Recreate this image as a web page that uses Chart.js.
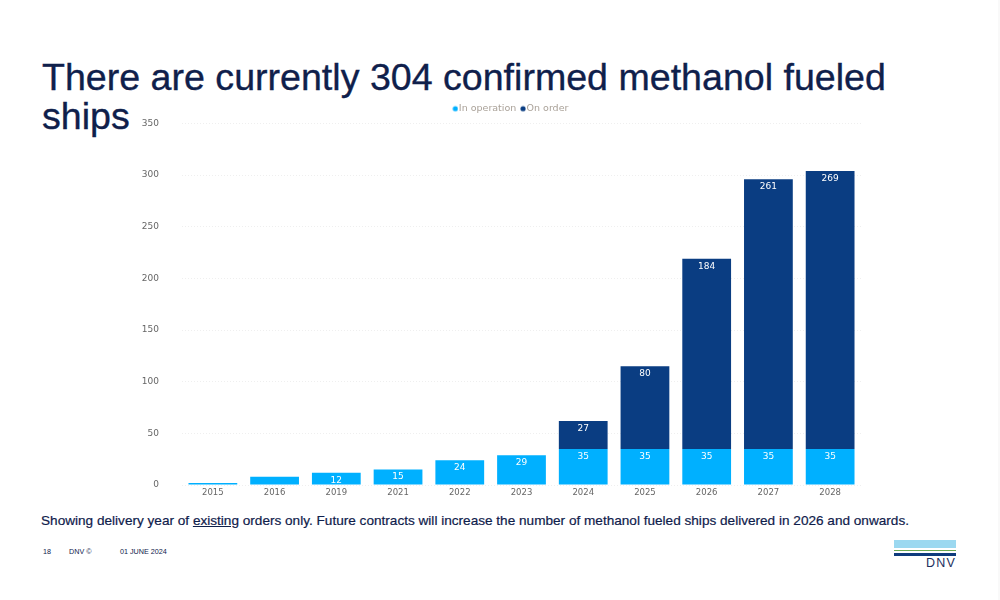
<!DOCTYPE html>
<html><head><meta charset="utf-8">
<script src="https://cdn.jsdelivr.net/npm/chart.js@4"></script>
<style>
html,body{margin:0;padding:0;background:#fff;width:1000px;height:600px;overflow:hidden}
.t{position:absolute;font-family:"Liberation Sans",Arial,sans-serif;color:#0f204b;white-space:nowrap}
#title{left:42px;top:58px;font-size:37.6px;line-height:39px;white-space:normal;width:880px;-webkit-text-stroke:0.35px #0f204b}
#cap{left:41px;top:513px;font-size:13.6px;line-height:16px;-webkit-text-stroke:0.2px #0f204b}
.f{top:547px;font-size:7.2px;line-height:10px}
#wrap{position:absolute;left:130px;top:94.5px;width:735px;height:418.5px}
.b{position:absolute;left:894px;width:62px}
#dnv{left:894px;width:62px;top:556px;text-align:right;font-size:12.5px;letter-spacing:1.2px;line-height:14px;color:#1d2f5e}
#edge{position:absolute;left:998px;top:0;width:2px;height:600px;background:#f9f9f9}
</style></head><body>
<div id="edge"></div>
<div class="t" id="title">There are currently 304 confirmed methanol fueled ships</div>
<div id="wrap"><canvas id="c"></canvas></div>
<div class="t" id="cap">Showing delivery year of <u>existing</u> orders only. Future contracts will increase the number of methanol fueled ships delivered in 2026 and onwards.</div>
<div class="t f" style="left:43px">18</div>
<div class="t f" style="left:69px">DNV ©</div>
<div class="t f" style="left:120px">01 JUNE 2024</div>
<div class="b" style="top:540px;height:8px;background:#9bd8f0"></div>
<div class="b" style="top:550px;height:1px;background:#6aa84f"></div>
<div class="b" style="top:553px;height:2.5px;background:#0f3b7d"></div>
<div class="t" id="dnv">DNV</div>
<script>
const categories=["2015","2016","2019","2021","2022","2023","2024","2025","2026","2027","2028"];
const inOperation=[2,8,12,15,24,29,35,35,35,35,35];
const onOrder=[0,0,0,0,0,0,27,80,184,261,269];
const yTicks=[0,50,100,150,200,250,300,350];
const labelFont='9px "DejaVu Sans"';
function dot(color){
  const c=document.createElement('canvas');
  c.width=12;c.height=12;
  const x=c.getContext('2d');
  x.fillStyle=color;x.beginPath();x.arc(9,6,2.6,0,Math.PI*2);x.fill();
  return c;
}
const legendShift={id:'legendShift',beforeDraw(chart){
  chart.legend.left=14;chart.legend.right=745;
}};
const segLabels={id:'segLabels',afterDatasetsDraw(chart){
  const ctx=chart.ctx;ctx.save();ctx.font=labelFont;ctx.fillStyle='#fff';ctx.textAlign='center';ctx.textBaseline='middle';
  chart.data.datasets.forEach((ds,i)=>{
    chart.getDatasetMeta(i).data.forEach((el,j)=>{
      const v=ds.data[j];
      if(v<10)return;
      ctx.fillText(String(v),el.x,el.y+7.5);
    });
  });
  ctx.restore();
}};
new Chart(document.getElementById('c'),{
  type:'bar',
  data:{labels:categories,datasets:[
    {label:'In operation',data:inOperation,backgroundColor:'#00b0ff',stack:'s',pointStyle:dot('#00b0ff')},
    {label:'On order',data:onOrder,backgroundColor:'#0a3d82',stack:'s',pointStyle:dot('#0a3d82')}
  ]},
  options:{
    responsive:true,maintainAspectRatio:false,animation:false,
    layout:{padding:{left:0,right:4,top:2,bottom:0}},
    datasets:{bar:{categoryPercentage:1,barPercentage:0.79}},
    plugins:{
      tooltip:{enabled:false},
      legend:{position:'top',align:'center',
        labels:{usePointStyle:true,boxWidth:3.5,boxHeight:5,padding:2,color:'#aaa299',font:{family:'"DejaVu Sans"',size:9.5}}}
    },
    scales:{
      x:{stacked:true,grid:{display:false,drawTicks:false},border:{display:false},
        afterFit(s){s.height=18;},
        ticks:{color:'#666',font:{family:'"DejaVu Sans"',size:8.5},padding:3,maxRotation:0,autoSkip:false}},
      y:{stacked:true,min:0,max:350,afterBuildTicks(s){s.ticks=yTicks.map(v=>({value:v}));},
        afterFit(s){s.width=52;},
        grid:{color:'#efefef',lineWidth:1,tickLength:0},border:{display:false,dash:[1,2]},
        ticks:{color:'#666',font:{family:'"DejaVu Sans"',size:9},padding:23}}
    }
  },
  plugins:[segLabels,legendShift]
});
</script>
</body></html>
